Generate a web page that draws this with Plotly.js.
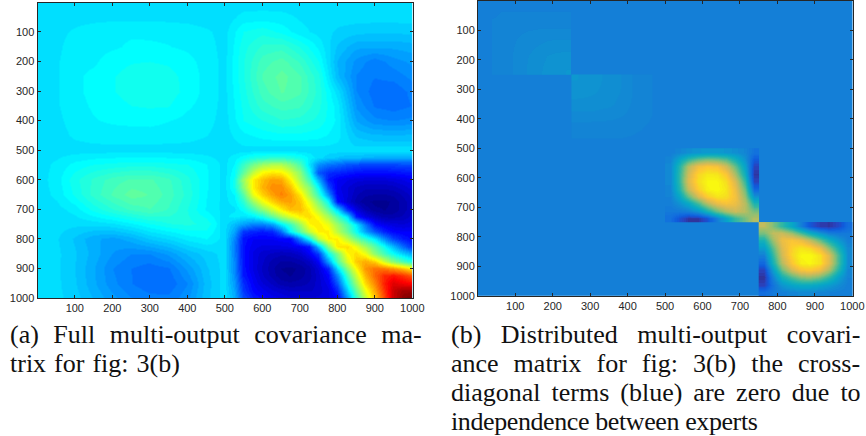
<!DOCTYPE html>
<html>
<head>
<meta charset="utf-8">
<script src="https://cdn.plot.ly/plotly-3.0.1.min.js"></script>
<style>html,body{margin:0;padding:0;background:#fff}#c{width:866px;height:436px}</style>
</head>
<body>
<div id="c"></div>
<script>
// --- tick labels
var tickVals = [100,200,300,400,500,600,700,800,900,1000];

// --- panel (a): coarse grid, values as percent of colour range
var aX = [0,50,100,150,200,250,300,350,400,450,500,550,600,650,700,750,800,850,900,950,1000];
var aY = aX.slice();
var aZ = [
[33.5,33.5,33.5,33.5,33.5,33.5,33.5,33.5,33.5,33.5,33.5,33.5,33.5,33.5,33.5,33.5,33.5,33.5,33.5,33.5,33.5],
[33.6,33.6,33.8,33.9,34,34,34,33.9,33.8,33.6,33.5,35,35.2,35,34.2,33.6,33.5,33.5,33.5,33.5,33.5],
[33.6,33.9,34.6,35.2,35.5,35.6,35.6,35.5,35.2,34.6,33.8,37.5,38.5,37,35,33.8,32.5,31.8,31.5,31.5,31.8],
[33.7,34,35.2,35.3,35.6,36.3,36.2,36,35.6,35,33.8,38.5,41,41.5,39,35.5,31,28.5,28.5,28.5,29],
[33.8,34.2,35.4,35.6,37,37.4,37.5,37.3,36.5,35.2,33.9,39,43,44.5,42,37.5,29.5,26,24,25.8,27],
[33.8,34.2,35.5,36.5,37.4,38.1,38.3,38,37,35.3,33.9,39,44,46,44,39.5,30,24.8,23.5,24,25.5],
[33.8,34.2,35.5,36.5,37.4,38.1,38.5,38.2,37,35.3,33.9,38.5,43,45.5,44,40,33.5,25,22.6,22.2,24],
[33.7,34.2,35.3,36.2,37,37.5,37.7,37.6,36.2,35.2,33.8,38,41.5,43,42.5,39.5,35,26.2,23.2,22.5,23.5],
[33.6,34,35,35.8,36.2,36.4,36.5,36,35.4,34.9,33.7,37.5,39,40.5,40,38.5,35.5,28,25.5,25,25.5],
[33.5,33.8,34.6,35,35.1,35.1,35.1,35,34.9,34.4,33.6,35.5,36.5,37,37,36.5,35,31,30,30,30],
[33.5,33.6,33.7,33.8,33.8,33.8,33.8,33.8,33.7,33.6,33.5,33.8,33.8,33.8,33.7,33.6,33.5,33.5,33.5,33.5,33.5],
[33.5,34.8,36.5,37.5,38,38.5,38.5,38,37.5,36,33.8,33.5,33.5,33.5,33.5,33.5,33.5,33.5,33.5,33.5,33.5],
[33.5,35.2,38.5,41,43,44,44,42.5,39.5,36.2,33.8,33.5,33.5,33.5,33.5,33.5,33.5,33.5,33.5,33.5,33.5],
[33.5,34.8,37.8,41.2,44,46.2,45.2,43,40,36,33.8,33.5,33.5,33.5,33.5,33.5,33.5,33.5,33.5,33.5,33.5],
[33.3,33.7,35,38,40.5,42.5,43.7,42,39,35.7,33.8,33.5,33.5,33.5,33.5,33.5,33.5,33.5,33.5,33.5,33.5],
[33.5,33.5,33.3,33.5,34.2,35.8,37.5,39,39.5,38.5,34,33.5,33.5,33.5,33.5,33.5,33.5,33.5,33.5,33.5,33.5],
[33.5,33,31,28.5,27.5,29,31.5,33,35,36,33.7,33.5,33.5,33.5,33.5,33.5,33.5,33.5,33.5,33.5,33.5],
[33.5,33.2,31.5,29,26.5,25,25,27,30,32,33.5,33.5,33.5,33.5,33.5,33.5,33.5,33.5,33.5,33.5,33.5],
[33.5,33.2,31.3,28.3,25,23.4,22.5,23.2,27,31,33.5,33.5,33.5,33.5,33.5,33.5,33.5,33.5,33.5,33.5,33.5],
[33.5,33.2,31.5,28.5,25.5,23.5,22.2,22.2,25,30.5,33.5,33.5,33.5,33.5,33.5,33.5,33.5,33.5,33.5,33.5,33.5],
[33.5,33.3,32,29.5,27,25,24,23.8,26.2,30.8,33.5,33.5,33.5,33.5,33.5,33.5,33.5,33.5,33.5,33.5,33.5]
];

// --- panel (a): lower-right quadrant, finer grid
var a2X = [500,525,550,575,600,625,650,675,700,725,750,775,800,825,850,875,900,925,950,975,1000];
var a2Y = a2X.slice();
var a2Z = [
[.337,.337,.337,.337,.337,.337,.337,.337,.337,.337,.337,.335,.335,.335,.335,.335,.335,.335,.335,.335,.335],
[.34,.35,.37,.39,.40,.41,.41,.40,.38,.355,.335,.32,.31,.30,.30,.295,.29,.29,.29,.29,.29],
[.34,.36,.42,.48,.52,.54,.54,.50,.44,.34,.26,.23,.22,.20,.19,.18,.18,.18,.185,.19,.19],
[.34,.37,.46,.56,.62,.64,.63,.58,.50,.38,.20,.16,.15,.14,.13,.125,.125,.125,.13,.135,.14],
[.34,.38,.52,.63,.68,.71,.70,.63,.53,.43,.29,.14,.11,.095,.085,.08,.08,.08,.085,.095,.105],
[.34,.38,.50,.63,.69,.73,.73,.68,.58,.50,.37,.19,.10,.08,.06,.05,.05,.05,.055,.07,.085],
[.34,.36,.45,.60,.66,.71,.74,.71,.64,.53,.42,.26,.11,.08,.05,.035,.03,.03,.035,.05,.07],
[.34,.35,.41,.52,.60,.66,.70,.71,.67,.59,.49,.37,.13,.075,.04,.02,.01,.01,.02,.04,.06],
[.34,.34,.37,.43,.50,.57,.63,.68,.68,.63,.55,.45,.33,.16,.085,.045,.02,.015,.02,.04,.06],
[.34,.35,.34,.35,.39,.46,.53,.58,.63,.65,.61,.53,.44,.34,.14,.09,.06,.04,.04,.05,.07],
[.335,.30,.27,.24,.24,.27,.35,.42,.52,.62,.64,.60,.52,.44,.35,.23,.125,.10,.085,.08,.09],
[.33,.28,.17,.15,.14,.15,.22,.36,.46,.56,.63,.63,.55,.47,.375,.28,.20,.15,.12,.11,.11],
[.33,.25,.135,.11,.11,.11,.12,.125,.25,.38,.55,.63,.63,.55,.47,.41,.34,.25,.18,.14,.12],
[.33,.24,.13,.10,.09,.09,.09,.095,.11,.14,.30,.50,.64,.65,.60,.53,.45,.375,.30,.22,.16],
[.33,.245,.13,.09,.07,.06,.05,.055,.07,.11,.17,.375,.49,.62,.65,.60,.50,.43,.375,.32,.28],
[.33,.25,.13,.09,.065,.04,.03,.03,.04,.06,.11,.27,.44,.58,.67,.70,.66,.57,.50,.44,.39],
[.33,.25,.135,.09,.06,.035,.015,.01,.02,.04,.08,.15,.33,.50,.62,.72,.76,.75,.72,.68,.63],
[.33,.26,.14,.10,.065,.04,.02,.015,.025,.04,.07,.12,.25,.43,.57,.69,.77,.83,.85,.82,.78],
[.33,.27,.16,.11,.08,.06,.04,.035,.04,.05,.07,.10,.20,.375,.52,.65,.74,.84,.90,.88,.87],
[.335,.28,.17,.12,.10,.08,.07,.06,.06,.06,.07,.09,.15,.32,.47,.60,.71,.82,.92,.96,.96],
[.335,.29,.19,.14,.12,.10,.09,.08,.08,.08,.08,.09,.12,.27,.42,.56,.68,.80,.92,.98,1]
];

// --- panel (b): uniform background
var bgX = [1,1000];
var bgY = [1,1000];
var bgZ = [[.24,.24],[.24,.24]];

// --- panel (b): block 1, percent of colour range
var b1X = [12.5,37.5,62.5,87.5,112.5,137.5,162.5,187.5,212.5,237.5];
var b1Y = b1X.slice();
var b1Z = [
[24,24,24,24,24,24,24,24,24,24],
[24,24.6,25,25.1,25.1,25.1,25.1,25.1,25.1,25.1],
[24,25,25.3,25.5,25.7,25.8,25.8,25.8,25.8,25.8],
[24,25.1,25.5,25.8,26,26.2,26.4,26.4,26.4,26.4],
[24,25.1,25.7,26,26.5,26.9,27.1,27.2,27.2,27.2],
[24,25.1,25.8,26.2,26.9,27.4,27.8,28.2,28.4,28.4],
[24,25.1,25.8,26.4,27.1,27.8,28.5,29,29.3,29.4],
[24,25.1,25.8,26.4,27.2,28.2,29,29.8,30.1,30.3],
[24,25.1,25.8,26.4,27.2,28.4,29.3,30.1,30.7,31],
[24,25.1,25.8,26.4,27.2,28.4,29.4,30.3,31,31.3]
];

// --- panel (b): block 2, percent of colour range
var b2X = [262.5,287.5,312.5,337.5,362.5,387.5,412.5,437.5,462.5,487.5];
var b2Y = b2X.slice();
var b2Z = [
[31.3,31,30.3,29.5,28.8,28,26.5,25.8,25.1,24],
[31,30.7,30.1,29.4,28.8,28,26.5,25.8,25.1,24],
[30.3,30.1,29.8,29.2,28.6,27.9,26.5,25.8,25.1,24],
[29.5,29.4,29.2,28.9,28.3,27.6,26.4,25.7,25.1,24],
[28.6,28.6,28.5,28.2,28,27.2,26.2,25.6,25.1,24],
[27.6,27.6,27.5,27.3,27,26.6,26,25.4,25,24],
[26.4,26.4,26.4,26.3,26.2,26,25.7,25.2,24.9,24],
[25.7,25.7,25.7,25.6,25.5,25.4,25.2,25,24.7,24],
[25.1,25.1,25.1,25.1,25.1,25,24.9,24.7,24.4,24],
[24,24,24,24,24,24,24,24,24,24]
];

// --- panel (b): block 3
var b3X = [512.5,537.5,562.5,587.5,612.5,637.5,662.5,687.5,712.5,737.5];
var b3Y = b3X.slice();
var b3Z = [
[.24,.26,.29,.31,.32,.32,.31,.29,.26,.20],
[.26,.38,.50,.58,.62,.60,.55,.44,.30,.12],
[.27,.47,.70,.83,.87,.85,.75,.58,.36,.06],
[.27,.49,.75,.91,.96,.95,.87,.68,.42,.03],
[.27,.49,.78,.93,.99,.99,.93,.77,.50,.06],
[.26,.46,.72,.89,.98,1,.95,.82,.58,.16],
[.25,.38,.58,.77,.89,.95,.93,.84,.64,.30],
[.24,.30,.39,.54,.70,.81,.85,.82,.70,.46],
[.22,.22,.24,.31,.44,.58,.68,.74,.70,.60],
[.19,.10,.03,.03,.10,.24,.37,.50,.60,.70]
];

// --- panel (b): block 4
var b4X = [762.5,787.5,812.5,837.5,862.5,887.5,912.5,937.5,962.5,987.5];
var b4Y = b4X.slice();
var b4Z = [
[.72,.62,.50,.38,.24,.11,.04,.03,.08,.18],
[.60,.72,.74,.66,.54,.42,.32,.24,.22,.22],
[.45,.66,.82,.86,.82,.72,.58,.44,.32,.24],
[.33,.56,.78,.90,.95,.92,.82,.64,.44,.27],
[.24,.50,.75,.91,.99,1,.94,.78,.52,.28],
[.16,.44,.70,.87,.97,.99,.94,.79,.52,.28],
[.06,.34,.58,.75,.85,.87,.82,.68,.46,.26],
[.02,.25,.44,.55,.63,.65,.60,.50,.35,.25],
[.06,.20,.31,.37,.40,.40,.37,.33,.28,.24],
[.18,.22,.24,.26,.27,.27,.26,.25,.24,.24]
];

// --- caption lines
var capA = ["(a) Full multi-output covariance ma-","trix for fig: 3(b)"];
var capB = ["(b) Distributed multi-output covari-","ance matrix for fig: 3(b) the cross-","diagonal terms (blue) are zero due to","independence between experts"];
var capAStyle = ["word-spacing:8px","word-spacing:1.5px"];
var capBStyle = ["word-spacing:13px","word-spacing:8.5px","word-spacing:4.5px","letter-spacing:-0.4px"];

// colour maps: 64 stepped levels, like the originals
function jetLevel(i){ // i = 1..64
  var r=Math.min(1,Math.max(0,Math.min((i-24)/16,(72-i)/16)));
  var g=Math.min(1,Math.max(0,Math.min((i-8)/16,(56-i)/16)));
  var b=Math.min(1,Math.max(0,Math.min((i+8)/16,(40-i)/16)));
  return 'rgb('+Math.round(r*255)+','+Math.round(g*255)+','+Math.round(b*255)+')';
}
var parulaAnchors=[[53,42,135],[40,68,192],[15,92,221],[18,112,222],[20,129,214],[14,150,208],[6,166,200],[20,175,185],[46,183,164],[90,188,142],[135,191,119],[175,190,100],[209,187,89],[235,190,70],[254,200,50],[246,225,30],[249,251,14]];
function parulaLevel(i){
  var t=(i-0.5)/64*16,k=Math.min(15,Math.floor(t)),f=t-k,a=parulaAnchors[k],c=parulaAnchors[k+1];
  return 'rgb('+[0,1,2].map(function(n){return Math.round(a[n]+(c[n]-a[n])*f);}).join(',')+')';
}
function stepped(fn){
  var s=[];
  for(var i=1;i<=64;i++){ s.push([(i-1)/64,fn(i)]); s.push([i/64,fn(i)]); }
  return s;
}
function pct(m){ return m.map(function(r){return r.map(function(v){return v/100;});}); }

function hm(x,y,z,xa,ya,ca){
  return {type:'heatmap',x:x,y:y,z:z,xaxis:xa,yaxis:ya,coloraxis:ca,zsmooth:'best',hoverinfo:'skip'};
}
var traces=[
  hm(aX,aY,pct(aZ),'x','y','coloraxis'),
  hm(a2X,a2Y,a2Z,'x','y','coloraxis'),
  hm(bgX,bgY,bgZ,'x2','y2','coloraxis2'),
  hm(b1X,b1Y,pct(b1Z),'x2','y2','coloraxis2'),
  hm(b2X,b2Y,pct(b2Z),'x2','y2','coloraxis2'),
  hm(b3X,b3Y,b3Z,'x2','y2','coloraxis2'),
  hm(b4X,b4Y,b4Z,'x2','y2','coloraxis2')
];

var W=866,H=436;
function axis(dom,rng,extra){
  var o={domain:dom,range:rng,tickmode:'array',tickvals:tickVals,ticktext:tickVals.map(String),
    ticks:'inside',ticklen:3,tickwidth:1,tickcolor:'#262626',mirror:'ticks',showline:true,linecolor:'#262626',linewidth:1,
    showgrid:false,zeroline:false,tickfont:{family:'Liberation Sans',size:11,color:'#262626'},automargin:false};
  for(var k in extra)o[k]=extra[k];
  return o;
}
var anns=[];
function cap(lines,st,x,y0){
  lines.forEach(function(t,i){
    anns.push({xref:'paper',yref:'paper',x:x/W,y:1-(y0+i*29)/H,xanchor:'left',yanchor:'middle',showarrow:false,align:'left',
      text:'<span style="'+st[i]+'">'+t+'</span>',
      font:{family:'Liberation Serif',size:26,color:'#111'}});
  });
}
cap(capA,capAStyle,8,334);
cap(capB,capBStyle,449,334);

var layout={
  width:W,height:H,margin:{l:0,r:0,t:0,b:0},paper_bgcolor:'#fff',plot_bgcolor:'#fff',showlegend:false,
  xaxis:axis([37.5/W,412.5/W],[0.5,1000.5],{anchor:'y'}),
  yaxis:axis([1-298/H,1-2.5/H],[1000.5,0.5],{anchor:'x'}),
  xaxis2:axis([478/W,852.5/W],[0.5,1000.5],{anchor:'y2'}),
  yaxis2:axis([1-296/H,1-0.8/H],[1000.5,0.5],{anchor:'x2'}),
  coloraxis:{cmin:0,cmax:1,colorscale:stepped(jetLevel),showscale:false},
  coloraxis2:{cmin:0,cmax:1,colorscale:stepped(parulaLevel),showscale:false},
  annotations:anns
};
Plotly.newPlot('c',traces,layout,{staticPlot:true,displayModeBar:false});
</script>
</body>
</html>
